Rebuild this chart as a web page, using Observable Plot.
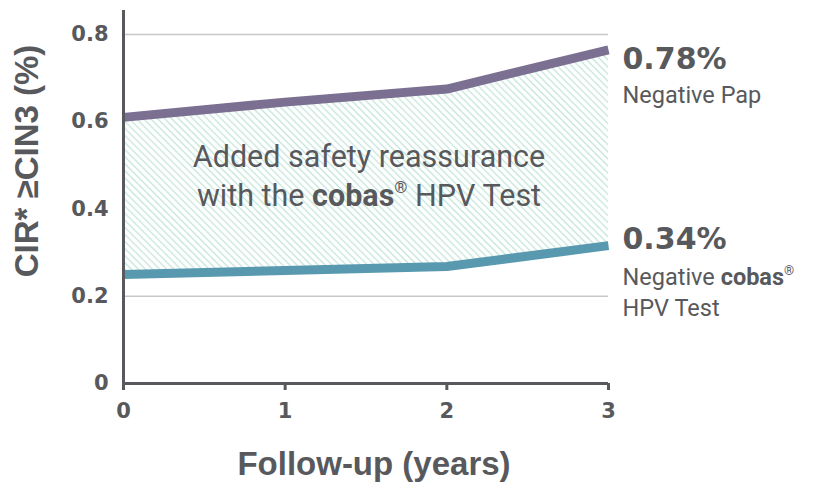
<!DOCTYPE html>
<html>
<head>
<meta charset="utf-8">
<script src="https://cdn.jsdelivr.net/npm/d3@7"></script>
<script src="https://cdn.jsdelivr.net/npm/@observablehq/plot@0.6"></script>
<style>
  html, body { margin: 0; padding: 0; background: #fff; }
  #chart svg { display: block; }
</style>
</head>
<body>
<div id="chart"></div>
<script>
const years = [0, 1, 2, 3];
const negativePap = [0.61, 0.645, 0.675, 0.765];
const negativeCobas = [0.25, 0.259, 0.268, 0.316];
const yTicks = [0, 0.2, 0.4, 0.6, 0.8];
const gridTicks = [0.2, 0.4, 0.6, 0.8];
const papLabel = "0.78%";
const cobasLabel = "0.34%";

const rows = years.map((x, i) => ({x, pap: negativePap[i], cobas: negativeCobas[i]}));
const last = rows[rows.length - 1];

const TXT = "#58595c";
const AX = "#58595c";
const FONT = "Roboto, 'Liberation Sans', sans-serif";
const NUMFONT = "'DejaVu Sans', sans-serif";
const TITLEFONT = "'Liberation Sans', Arial, sans-serif";

const chart = Plot.plot({
  width: 814,
  height: 482,
  marginLeft: 123,
  marginRight: 206,
  marginTop: 10,
  marginBottom: 99,
  style: {fontFamily: FONT, color: TXT, background: "#fff"},
  x: {domain: [0, 3]},
  y: {domain: [0, 0.855]},
  marks: [
    Plot.ruleY(gridTicks, {stroke: "#c8c8c8", strokeWidth: 1.5}),
    Plot.areaY(rows, {x: "x", y1: "cobas", y2: "pap", fill: "#fff"}),
    Plot.areaY(rows, {x: "x", y1: "cobas", y2: "pap", fill: "url(#hatch)"}),
    Plot.lineY(rows, {x: "x", y: "pap", stroke: "#7b7091", strokeWidth: 9, strokeLinejoin: "round", strokeLinecap: "butt"}),
    Plot.lineY(rows, {x: "x", y: "cobas", stroke: "#5899b0", strokeWidth: 9, strokeLinejoin: "round", strokeLinecap: "butt"}),
    Plot.ruleX([0], {y1: 0, y2: 0.855, stroke: AX, strokeWidth: 3}),
    Plot.ruleY([0], {x1: 0, x2: 3, stroke: AX, strokeWidth: 3}),
    Plot.axisY({ticks: yTicks, tickSize: 0, tickPadding: 15, label: null,
      tickFormat: d => d === 0 ? "0" : d3.format(".1f")(d),
      fontFamily: NUMFONT, fontSize: 21, fontWeight: "bold", fill: TXT}),
    Plot.axisX({ticks: years, tickSize: 7, tickPadding: 13, label: null,
      tickFormat: d => String(d), stroke: AX, strokeWidth: 3,
      fontFamily: NUMFONT, fontSize: 21, fontWeight: "bold", fill: TXT}),
    Plot.text(["CIR* ≥CIN3 (%)"], {frameAnchor: "left", textAnchor: "middle", lineAnchor: "middle",
      dx: -96, dy: -36, rotate: -90,
      fontFamily: TITLEFONT, fontSize: 33, fontWeight: "bold", fill: TXT}),
    Plot.text(["Follow-up (years)"], {frameAnchor: "bottom", textAnchor: "middle", lineAnchor: "middle",
      dx: 8, dy: 81,
      fontFamily: TITLEFONT, fontSize: 33, fontWeight: "bold", fill: TXT}),
    Plot.text([papLabel], {x: () => last.x, y: () => last.pap, dx: 14, dy: 9.5, textAnchor: "start",
      fontFamily: NUMFONT, fontSize: 30, fontWeight: "bold", fill: TXT}),
    Plot.text(["Negative Pap"], {x: () => last.x, y: () => last.pap, dx: 14, dy: 45.5, textAnchor: "start",
      fontSize: 23.5, fill: TXT}),
    Plot.text([cobasLabel], {x: () => last.x, y: () => last.cobas, dx: 14, dy: -6.5, textAnchor: "start",
      fontFamily: NUMFONT, fontSize: 30, fontWeight: "bold", fill: TXT}),
    Plot.text(["Negative |cobas|®"], {x: () => last.x, y: () => last.cobas, dx: 14, dy: 31.5, textAnchor: "start",
      fontSize: 23.5, fill: TXT, className: "rich"}),
    Plot.text(["HPV Test"], {x: () => last.x, y: () => last.cobas, dx: 14, dy: 62.5, textAnchor: "start",
      fontSize: 23.5, fill: TXT}),
    Plot.text(["Added safety reassurance"], {x: () => 1.5, y: () => 0.5, dx: 3, dy: -8.6, textAnchor: "middle",
      fontSize: 30.5, fill: TXT}),
    Plot.text(["with the |cobas|® HPV Test"], {x: () => 1.5, y: () => 0.5, dx: 3, dy: 30.4, textAnchor: "middle",
      fontSize: 30.5, fill: TXT, className: "rich"})
  ]
});

// hatch pattern definition
const svg = d3.select(chart);
const defs = svg.insert("defs", ":first-child");
const pat = defs.append("pattern")
  .attr("id", "hatch").attr("patternUnits", "userSpaceOnUse")
  .attr("width", 5).attr("height", 5)
  .attr("patternTransform", "rotate(45)");
pat.append("line").attr("x1", 0).attr("y1", 2.5).attr("x2", 5).attr("y2", 2.5)
  .attr("stroke", "#c3e4d9").attr("stroke-width", 1.3);

// rich text: bold "cobas" and superscript ®
svg.selectAll("g.rich text").each(function() {
  const t = d3.select(this);
  const fs = parseFloat(d3.select(this.parentNode).attr("font-size")) || 24;
  const parts = t.text().split("|");
  t.text(null);
  parts.forEach((p, i) => {
    if (i === 1) {
      t.append("tspan").attr("font-weight", "bold").text(p);
    } else if (p.startsWith("®")) {
      const up = 0.42 * fs;
      t.append("tspan").attr("font-size", 0.55 * fs).attr("dy", -up).text("®");
      t.append("tspan").attr("dy", up).text(p.slice(1));
    } else {
      t.append("tspan").text(p);
    }
  });
});

document.getElementById("chart").appendChild(chart);
</script>
</body>
</html>
